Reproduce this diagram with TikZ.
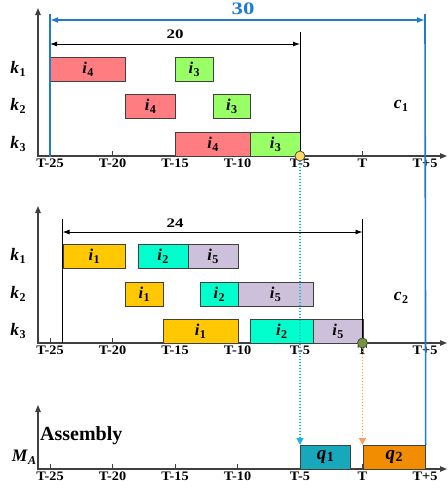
\documentclass[tikz,border=0pt]{standalone}
\usepackage{fontspec}
\setmainfont{Liberation Serif}
\usetikzlibrary{arrows.meta}
\definecolor{axisgray}{HTML}{404040}
\definecolor{cred}{HTML}{FF7C80}
\definecolor{cgreen}{HTML}{99FF66}
\definecolor{cgold}{HTML}{FFC800}
\definecolor{cteal}{HTML}{00FFCC}
\definecolor{clav}{HTML}{CCC0DA}
\definecolor{cqone}{HTML}{17A9BB}
\definecolor{cqtwo}{HTML}{F28C00}
\definecolor{cblue}{HTML}{1F7BCB}
\definecolor{ccyan}{HTML}{22B8D8}
\definecolor{corange}{HTML}{F8A060}
\definecolor{cyel}{HTML}{FFD966}
\definecolor{colive}{HTML}{77933C}
\newcommand\vlab[2]{\textbf{\textit{#1}}\kern0.3pt\raisebox{-0.35ex}{\fontsize{12}{12}\selectfont\bfseries #2}}
\newcommand\qlab[2]{\textbf{\textit{#1}}\kern0.3pt\raisebox{-0.2ex}{\fontsize{14}{14}\selectfont\bfseries #2}}
\newcommand\gbar[7]{\node[gbox, fill=#5, minimum width={12.5*((#3)-(#2))}, anchor=north west] (#1) at ({362.5+12.5*(#2)},#4) {\vlab{#6}{#7}};}
\tikzset{
  axis/.style={draw=axisgray, line width=1.1pt, -{Triangle[length=7pt,width=5.5pt]}},
  gbox/.style={draw=axisgray, line width=0.7pt, minimum height=24pt, inner sep=0pt, font=\fontsize{16.5}{16.5}\selectfont},
  qbox/.style={draw=axisgray, line width=0.7pt, minimum height=24pt, inner sep=0pt, font=\fontsize{19}{19}\selectfont, anchor=north west},
  tickmark/.style={draw=axisgray, line width=0.7pt},
  ticklab/.style={font=\fontsize{13}{13}\selectfont\bfseries, anchor=north, inner sep=0pt},
  rowlab/.style={font=\fontsize{17.5}{17.5}\selectfont, inner sep=0pt},
  dimline/.style={line width=0.9pt, {Latex[length=7pt,width=5pt]}-{Latex[length=7pt,width=5pt]}},
  bluedim/.style={draw=cblue, line width=1.6pt, {Latex[length=8pt,width=6pt]}-{Latex[length=8pt,width=6pt]}},
  blueline/.style={draw=cblue, line width=1.6pt},
  vline/.style={draw=black, line width=0.8pt},
  dotarrow/.style={line width=1.4pt, dash pattern=on 1.4pt off 1.6pt, -{Triangle[length=7pt,width=7pt]}},
  dimlab/.style={font=\fontsize{13}{13}\selectfont\bfseries, inner sep=0pt},
  marker/.style={circle, draw=axisgray, line width=0.7pt, minimum size=10pt, inner sep=0pt}
}
\begin{document}
\begin{tikzpicture}[x=1pt,y=-1pt]
\useasboundingbox (0,0) rectangle (448,491);
% ---------- axes and ticks
\foreach \base/\ytop/\nm in {156/8/a, 343/206/b, 469/405/c}{
  \foreach \t/\lab in {-25/T-25,-20/T-20,-15/T-15,-10/T-10,-5/T-5,0/T,5/T+5}{
    \draw[tickmark] ({362.5+12.5*\t},\base) -- ({362.5+12.5*\t},\base-5);
    \node[ticklab] (lab\nm\t) at ({362.5+12.5*\t},\base+2.5) {\scalebox{1.1}[1]{\lab}};
  }
  \coordinate (o\nm) at (38,\base+1);
  \coordinate (yt\nm) at (38,\ytop);
  \coordinate (x0\nm) at (37.5,\base);
  \coordinate (xe\nm) at (447,\base);
  \draw[axis] (o\nm) -- (yt\nm);
  \draw[axis] (x0\nm) -- (xe\nm);
}
% ---------- top chart (c1)
\gbar{a1}{-25}{-19}{57}{cred}{i}{4}
\gbar{a2}{-15}{-12}{57}{cgreen}{i}{3}
\gbar{a3}{-19}{-15}{94}{cred}{i}{4}
\gbar{a4}{-12}{-9}{94}{cgreen}{i}{3}
\gbar{a5}{-15}{-9}{132}{cred}{i}{4}
\gbar{a6}{-9}{-5}{132}{cgreen}{i}{3}
\node[rowlab] (ka1) at (18,69) {\vlab{k}{1}};
\node[rowlab] (ka2) at (18,106) {\vlab{k}{2}};
\node[rowlab] (ka3) at (18,144) {\vlab{k}{3}};
\node[rowlab] (c1) at (401,106) {\vlab{c}{1}};
\coordinate (v5top) at (300,32);
\coordinate (v5bot) at (300,156);
\draw[vline] (v5top) -- (v5bot);
\coordinate (d20a) at (50,44);
\coordinate (d20b) at (300,44);
\draw[dimline] (d20a) -- (d20b);
\node[dimlab] (l20) at (175,34) {\scalebox{1.3}[1]{20}};
% ---------- middle chart (c2)
\gbar{b1}{-24}{-19}{244}{cgold}{i}{1}
\gbar{b2}{-18}{-14}{244}{cteal}{i}{2}
\gbar{b3}{-14}{-10}{244}{clav}{i}{5}
\gbar{b4}{-19}{-16}{282}{cgold}{i}{1}
\gbar{b5}{-13}{-10}{282}{cteal}{i}{2}
\gbar{b6}{-10}{-4}{282}{clav}{i}{5}
\gbar{b7}{-16}{-10}{319}{cgold}{i}{1}
\gbar{b8}{-9}{-4}{319}{cteal}{i}{2}
\gbar{b9}{-4}{0}{319}{clav}{i}{5}
\node[rowlab] (kb1) at (18,256) {\vlab{k}{1}};
\node[rowlab] (kb2) at (18,294) {\vlab{k}{2}};
\node[rowlab] (kb3) at (18,331) {\vlab{k}{3}};
\node[rowlab] (c2) at (401,298) {\vlab{c}{2}};
\coordinate (w24top) at (62.5,219);
\coordinate (w24bot) at (62.5,343);
\coordinate (w0top) at (362.5,219);
\coordinate (w0bot) at (362.5,343);
\draw[vline] (w24top) -- (w24bot);
\draw[vline] (w0top) -- (w0bot);
\coordinate (d24a) at (62.5,232);
\coordinate (d24b) at (362.5,232);
\draw[dimline] (d24a) -- (d24b);
\node[dimlab] (l24) at (175,223) {\scalebox{1.3}[1]{24}};
% ---------- bottom chart (assembly)
\node[qbox, fill=cqone, minimum width=50pt] (q1) at (300,445) {\qlab{q}{1}};
\node[qbox, fill=cqtwo, minimum width=62.5pt] (q2) at (362.5,445) {\qlab{q}{2}};
\node[font=\fontsize{20}{20}\selectfont\bfseries, anchor=west, inner sep=0pt] (asm) at (40,436) {Assembly};
\node[rowlab] (ma) at (24,457) {\textbf{\textit{M}}\kern0.3pt\raisebox{-0.35ex}{\fontsize{12}{12}\selectfont\bfseries\itshape A}};
% ---------- blue 30 span
\coordinate (bl1t) at (50,14);
\coordinate (bl1b) at (50,157);
\coordinate (bl2t) at (425,14);
\draw[blueline] (bl1t) -- (bl1b);
\draw[blueline] (bl2t) -- (q2.north east);
\coordinate (d30a) at (50,20);
\coordinate (d30b) at (425,20);
\draw[bluedim] (d30a) -- (d30b);
\node[font=\fontsize{17.5}{17.5}\selectfont\bfseries, text=cblue, inner sep=0pt] (l30) at (243,9) {\scalebox{1.3}[1]{30}};
% ---------- dotted connectors and markers
\coordinate (cy1) at (300,161);
\draw[dotarrow, draw=ccyan, fill=ccyan] (cy1) -- (q1.north west);
\coordinate (or1) at (362.5,348);
\draw[dotarrow, draw=corange, fill=corange] (or1) -- (q2.north west);
\node[marker, fill=cyel] (m1) at (300,156) {};
\node[marker, fill=colive] (m2) at (362.5,343) {};
\end{tikzpicture}
\end{document}
